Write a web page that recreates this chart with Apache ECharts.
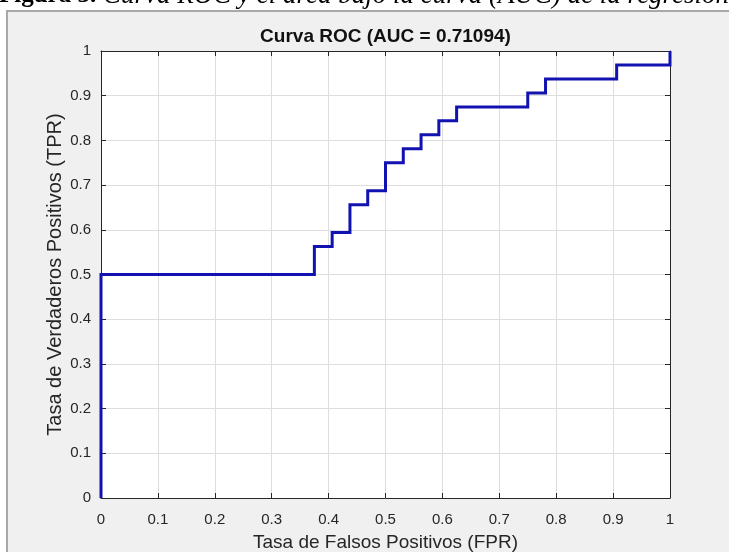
<!DOCTYPE html>
<html>
<head>
<meta charset="utf-8">
<script src="https://cdn.jsdelivr.net/npm/echarts@6/dist/echarts.min.js"></script>
<style>
html,body{margin:0;padding:0;background:#fff;}
#c{width:729px;height:552px;}
</style>
</head>
<body>
<div id="c"></div>
<script>
// ROC curve vertices (FPR, TPR)
const fpr = [0, 0, 0.375, 0.375, 0.40625, 0.40625, 0.4375, 0.4375, 0.46875, 0.46875, 0.5, 0.5, 0.53125, 0.53125, 0.5625, 0.5625, 0.59375, 0.59375, 0.625, 0.625, 0.75, 0.75, 0.78125, 0.78125, 0.90625, 0.90625, 1, 1];
const tpr = [0, 0.5, 0.5, 0.5625, 0.5625, 0.59375, 0.59375, 0.65625, 0.65625, 0.6875, 0.6875, 0.75, 0.75, 0.78125, 0.78125, 0.8125, 0.8125, 0.84375, 0.84375, 0.875, 0.875, 0.90625, 0.90625, 0.9375, 0.9375, 0.96875, 0.96875, 1];
const xTicks = ['0','0.1','0.2','0.3','0.4','0.5','0.6','0.7','0.8','0.9','1'];
const yTicks = ['0','0.1','0.2','0.3','0.4','0.5','0.6','0.7','0.8','0.9','1'];
const titleText = 'Curva ROC (AUC = 0.71094)';
const xName = 'Tasa de Falsos Positivos (FPR)';
const yName = 'Tasa de Verdaderos Positivos (TPR)';
const captionBold = 'Figura 3.';
const captionRest = ' Curva ROC y el área bajo la curva (AUC) de la regresión logística';

const chart = echarts.init(document.getElementById('c'), null, {renderer:'canvas'});
const font = 'Liberation Sans, Arial, Helvetica, sans-serif';
const axisCol = '#262626';
function fmt(v){ const i = Math.round(v*10); return xTicks[i] !== undefined ? xTicks[i] : ''; }
function fmtY(v){ const i = Math.round(v*10); return yTicks[i] !== undefined ? yTicks[i] : ''; }
const baseAxis = {
  type:'value', min:0, max:1, interval:0.1,
  axisLine:{show:true, onZero:false, lineStyle:{color:axisCol, width:1}},
  axisTick:{show:true, inside:true, length:5, lineStyle:{color:axisCol}},
  splitLine:{show:true, lineStyle:{color:'#dedede', width:1}},
};
chart.setOption({
  animation:false,
  backgroundColor:'#ffffff',
  graphic:[
    {type:'rect', z:-10, shape:{x:7, y:11, width:760, height:600}, style:{fill:'#f0f0f0', stroke:'#a8a8a8', lineWidth:2}},
    {type:'text', z:10, x:-1, y:9, style:{
      text:'{b|'+captionBold+'}{i|'+captionRest+'}', verticalAlign:'bottom', align:'left',
      rich:{
        b:{fontFamily:'Liberation Serif, Times New Roman, serif', fontWeight:'bold', fontSize:25, fill:'#000'},
        i:{fontFamily:'Liberation Serif, Times New Roman, serif', fontStyle:'italic', fontSize:27, fill:'#000'}
      }}},
    {type:'text', z:10, x:385.5, y:37, style:{text:titleText, fontFamily:font, fontWeight:'bold', fontSize:19, fill:'#111', align:'center', verticalAlign:'middle'}}
  ],
  grid:{left:101, right:59, top:51, bottom:54, show:true, backgroundColor:'#ffffff', borderWidth:0, containLabel:false, outerBoundsMode:'none'},
  xAxis:[
    Object.assign({}, baseAxis, {
      position:'bottom',
      axisLabel:{color:axisCol, fontFamily:font, fontSize:15, margin:14, formatter:fmt},
      name:xName, nameLocation:'middle', nameGap:35, nameMoveOverlap:false,
      nameTextStyle:{color:axisCol, fontFamily:font, fontSize:19}
    }),
    Object.assign({}, baseAxis, {position:'top', axisLabel:{show:false}, splitLine:{show:false}})
  ],
  yAxis:[
    Object.assign({}, baseAxis, {
      position:'left',
      axisLabel:{color:axisCol, fontFamily:font, fontSize:15, margin:10, formatter:fmtY},
      name:yName, nameLocation:'middle', nameGap:36, nameRotate:90, nameMoveOverlap:false,
      nameTextStyle:{color:axisCol, fontFamily:font, fontSize:20}
    }),
    Object.assign({}, baseAxis, {position:'right', axisLabel:{show:false}, splitLine:{show:false}})
  ],
  series:[{
    type:'line', xAxisIndex:0, yAxisIndex:0,
    data: fpr.map((x,i)=>[x, tpr[i]]),
    showSymbol:false, symbol:'none', clip:false,
    lineStyle:{color:'#1212b0', width:3, join:'miter'},
    z:5
  }]
});
</script>
</body>
</html>
